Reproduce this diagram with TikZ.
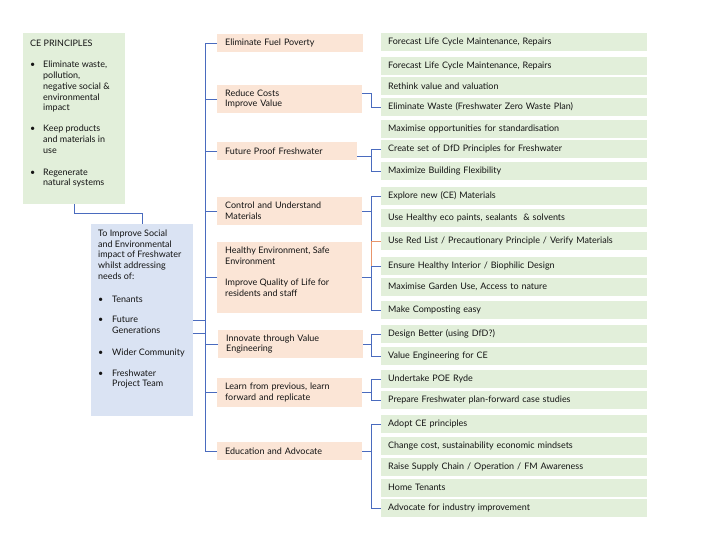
\documentclass[tikz,border=0pt]{standalone}
\usepackage{fontspec}
\setmainfont{Lato}
\usetikzlibrary{calc}
\definecolor{gfill}{HTML}{E2EFDA}
\definecolor{ofill}{HTML}{FBE5D6}
\definecolor{bfill}{HTML}{DAE3F3}
\definecolor{lblue}{HTML}{4A6BBE}
\definecolor{lorange}{HTML}{E8956B}
\definecolor{txt}{HTML}{141414}
\newcommand\blt[1]{\makebox[13bp][l]{•}#1}
\newcommand\ind[1]{\makebox[13bp]{}#1}
\newcommand\bltm[1]{\makebox[14bp][l]{•}#1}
\newcommand\indm[1]{\makebox[14bp]{}#1}
\tikzset{
  base/.style={font=\fontsize{9}{10.8}\selectfont, text=txt},
  gbox/.style={base, fill=gfill, anchor=west, minimum height=18bp, text width=252bp, inner xsep=7bp, inner ysep=0pt, align=left},
  obox/.style={base, fill=ofill, anchor=west, text width=129bp, inner xsep=8bp, inner ysep=0pt, align=left},
  plainbox/.style={anchor=north west, inner sep=0pt},
  txtnode/.style={base, anchor=north west, inner sep=0pt, align=left},
  conn/.style={draw=lblue, line width=0.9bp},
  connor/.style={draw=lorange, line width=0.9bp}
}
\begin{document}
\begin{tikzpicture}[x=1bp,y=-1bp]
\useasboundingbox (0,0) rectangle (720,540);
\fill[white] (0,0) rectangle (720,540);

% left boxes
\node[plainbox, fill=gfill, minimum width=102bp, minimum height=171bp] (ce) at (23,33) {};
\node[txtnode] (cet) at (30,39.5) {CE PRINCIPLES\\[11bp]
\blt{Eliminate waste,}\\
\ind{pollution,}\\
\ind{negative social \&}\\
\ind{environmental}\\
\ind{impact}\\[10bp]
\blt{Keep products}\\
\ind{and materials in}\\
\ind{use}\\[11bp]
\blt{Regenerate}\\
\ind{natural systems}};

\node[plainbox, fill=bfill, minimum width=102bp, minimum height=192bp] (m) at (91,224) {};
\node[txtnode] (mt) at (98,229.5) {To Improve Social\\
and Environmental\\
impact of Freshwater\\
whilst addressing\\
needs of:\\[12bp]
\bltm{Tenants}\\[10bp]
\bltm{Future}\\
\indm{Generations}\\[11bp]
\bltm{Wider Community}\\[10bp]
\bltm{Freshwater}\\
\indm{Project Team}};

% orange boxes
\node[obox, minimum height=18bp, text width=130bp] (o1) at (217,43) {Eliminate Fuel Poverty};
\node[obox, minimum height=28bp] (o2) at (217,99) {Reduce Costs\\Improve Value};
\node[obox, minimum height=18bp, text width=124bp] (o3) at (217,151) {Future Proof Freshwater};
\node[obox, minimum height=28bp] (o4) at (217,211) {Control and Understand\\Materials};
\node[obox, minimum height=71bp] (o5) at (217,277.5) {};
\node[txtnode] (o5t) at (225,246.5) {Healthy Environment, Safe\\Environment\\[11bp]Improve Quality of Life for\\residents and staff};
\node[obox, minimum height=28bp] (o6) at (218,344) {Innovate through Value\\Engineering};
\node[obox, minimum height=29bp] (o7) at (217,392.5) {Learn from previous, learn\\forward and replicate};
\node[obox, minimum height=18bp] (o8) at (217,451) {Education and Advocate};

% green boxes
\node[gbox] (g1) at (381,42) {Forecast Life Cycle Maintenance, Repairs};
\node[gbox] (g2) at (381,66) {Forecast Life Cycle Maintenance, Repairs};
\node[gbox] (g3) at (381,86) {Rethink value and valuation};
\node[gbox] (g4) at (381,107) {Eliminate Waste (Freshwater Zero Waste Plan)};
\node[gbox] (g5) at (381,129) {Maximise opportunities for standardisation};
\node[gbox] (g6) at (381,149) {Create set of DfD Principles for Freshwater};
\node[gbox] (g7) at (381,171) {Maximize Building Flexibility};
\node[gbox] (g8) at (381,196) {Explore new (CE) Materials};
\node[gbox] (g9) at (381,218) {Use Healthy eco paints, sealants \ \& solvents};
\node[gbox] (g10) at (381,241) {Use Red List / Precautionary Principle / Verify Materials};
\node[gbox] (g11) at (381,266) {Ensure Healthy Interior / Biophilic Design};
\node[gbox] (g12) at (381,287) {Maximise Garden Use, Access to nature};
\node[gbox] (g13) at (381,310) {Make Composting easy};
\node[gbox] (g14) at (381,334) {Design Better (using DfD?)};
\node[gbox] (g15) at (381,356) {Value Engineering for CE};
\node[gbox] (g16) at (381,379) {Undertake POE Ryde};
\node[gbox] (g17) at (381,400) {Prepare Freshwater plan-forward case studies};
\node[gbox] (g18) at (381,424) {Adopt CE principles};
\node[gbox] (g19) at (381,446) {Change cost, sustainability economic mindsets};
\node[gbox] (g20) at (381,467) {Raise Supply Chain / Operation / FM Awareness};
\node[gbox] (g21) at (381,487.5) {Home Tenants};
\node[gbox] (g22) at (381,508) {Advocate for industry improvement};

% connector columns
\coordinate (mx) at (205,0);
\coordinate (bx) at (371,0);

% CE to middle box
\draw[conn] (ce.south) -- ++(0,9) -| (m.north);

% main trunk
\draw[conn] (o1.west) -- (mx|-o1.west) -- (mx|-o8.west) -- (o8.west);
\foreach \o in {o2,o3,o4,o5,o6,o7} \draw[conn] (\o.west) -- (mx|-\o.west);
\coordinate (m2) at ([yshift=-13bp]m.east);
\draw[conn] (m.east) -- (mx|-m.east);
\draw[conn] (m2) -- (mx|-m2);

% reduce costs
\coordinate (o2c) at ([yshift=6bp]o2.east);
\draw[conn] (o2c) -| (bx|-g4.west) -- (g4.west);
% future proof
\coordinate (o3c) at ([yshift=-5bp]o3.east);
\draw[conn] (g6.west) -- (bx|-g6.west) -- (bx|-g7.west) -- (g7.west);
\draw[conn] (o3c) -- (bx|-o3c);
% control
\draw[conn] (g8.west) -- (bx|-g8.west) -- (bx|-g10.west);
\draw[conn] (o4.east) -- (bx|-o4.east);
% healthy
\draw[connor] (g10.west) -- (bx|-g10.west) -- (bx|-g11.west);
\draw[conn] (g11.west) -- (bx|-g11.west) -- (bx|-g13.west) -- (g13.west);
\draw[conn] (o5.east) -- (bx|-o5.east);
% innovate
\draw[conn] (g14.west) -- (bx|-g14.west) -- (bx|-g15.west) -- (g15.west);
\draw[conn] (o6.east) -- (bx|-o6.east);
% learn
\draw[conn] (g16.west) -- (bx|-g16.west) -- (bx|-g17.west) -- (g17.west);
\draw[conn] (o7.east) -- (bx|-o7.east);
% education
\draw[conn] (g18.west) -- (bx|-g18.west) -- (bx|-g22.west) -- (g22.west);
\draw[conn] (o8.east) -- (bx|-o8.east);
\end{tikzpicture}
\end{document}
